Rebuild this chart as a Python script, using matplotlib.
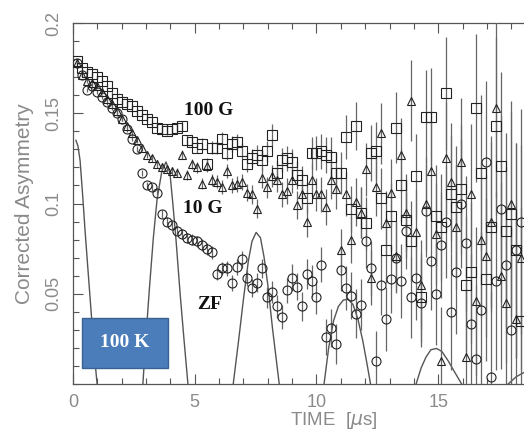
import matplotlib
matplotlib.use('Agg')
import matplotlib.pyplot as plt
from matplotlib.ticker import MultipleLocator, FixedLocator, FixedFormatter
from matplotlib.patches import Rectangle

# time bins [us]
TIME = [0.16, 0.365, 0.57, 0.775, 0.98, 1.185, 1.39, 1.595, 1.8, 2.005,
        2.21, 2.415, 2.62, 2.825, 3.03, 3.235, 3.44, 3.645, 3.85, 4.055,
        4.26, 4.465, 4.67, 4.875, 5.08, 5.285, 5.49, 5.695, 5.9, 6.105,
        6.31, 6.515, 6.72, 6.925, 7.13, 7.335, 7.54, 7.745, 7.95, 8.155,
        8.36, 8.565, 8.77, 8.975, 9.18, 9.385, 9.59, 9.795, 10.0, 10.205,
        10.41, 10.615, 10.82, 11.025, 11.23, 11.435, 11.64, 11.845, 12.05, 12.255,
        12.46, 12.665, 12.87, 13.075, 13.28, 13.485, 13.69, 13.895, 14.1, 14.305,
        14.51, 14.715, 14.92, 15.125, 15.33, 15.535, 15.74, 15.945, 16.15, 16.355,
        16.56, 16.765, 16.97, 17.175, 17.38, 17.585, 17.79, 17.995, 18.2, 18.405]

# statistical error per bin (same counting statistics for every field)
ERR = [0.0010, 0.0010, 0.0011, 0.0011, 0.0012, 0.0012, 0.0013, 0.0014, 0.0014, 0.0015,
       0.0016, 0.0016, 0.0017, 0.0018, 0.0019, 0.0020, 0.0021, 0.0022, 0.0023, 0.0024,
       0.0025, 0.0026, 0.0028, 0.0029, 0.0030, 0.0032, 0.0033, 0.0035, 0.0036, 0.0038,
       0.0040, 0.0042, 0.0044, 0.0046, 0.0048, 0.0050, 0.0053, 0.0055, 0.0058, 0.0061,
       0.0064, 0.0067, 0.0070, 0.0073, 0.0077, 0.0080, 0.0084, 0.0088, 0.0092, 0.0097,
       0.0101, 0.0106, 0.0111, 0.0117, 0.0122, 0.0128, 0.0134, 0.0141, 0.0147, 0.0155,
       0.0162, 0.0169, 0.0178, 0.0186, 0.0195, 0.0204, 0.0214, 0.0224, 0.0235, 0.0246,
       0.0257, 0.0270, 0.0283, 0.0296, 0.0311, 0.0325, 0.0341, 0.0357, 0.0374, 0.0391,
       0.0410, 0.0430, 0.0450, 0.0472, 0.0495, 0.0518, 0.0542, 0.0568, 0.0596, 0.0624]

ASY_100G = [0.179, 0.175, 0.173, 0.172, 0.170, 0.168, 0.165, 0.161, 0.158, 0.156,
            0.155, 0.154, 0.151, 0.149, 0.147, 0.145, 0.142, 0.141, 0.140, 0.141,
            0.142, 0.143, 0.135, 0.134, 0.131, 0.133, 0.122, 0.131, 0.131, 0.136,
            0.128, 0.133, 0.134, 0.129, 0.122, 0.125, 0.127, 0.124, 0.129, 0.138,
            0.117, 0.124, 0.125, 0.123, 0.116, 0.113, 0.103, 0.128, 0.128, 0.129,
            0.127, 0.126, 0.117, 0.117, 0.137, 0.097, 0.143, 0.095, 0.089, 0.128,
            0.129, 0.103, 0.074, 0.093, 0.142, 0.110, 0.091, 0.079, 0.115, 0.048,
            0.148, 0.148, 0.093, 0.087, 0.161, 0.105, 0.098, 0.108, 0.055, 0.062,
            0.153, 0.117, 0.058, 0.087, 0.143, 0.121, 0.085, 0.094, 0.074, 0.035]

ASY_10G = [0.178, 0.171, 0.168, 0.167, 0.165, 0.162, 0.158, 0.155, 0.151, 0.147,
           0.143, 0.139, 0.135, 0.131, 0.127, 0.125, 0.122, 0.120, 0.119, 0.118,
           0.117, 0.127, 0.116, 0.122, 0.120, 0.111, 0.121, 0.113, 0.112, 0.109,
           0.118, 0.110, 0.111, 0.112, 0.106, 0.105, 0.097, 0.114, 0.109, 0.115,
           0.113, 0.105, 0.107, 0.113, 0.099, 0.105, 0.090, 0.113, 0.105, 0.105,
           0.098, 0.113, 0.108, 0.074, 0.105, 0.080, 0.101, 0.095, 0.119, 0.059,
           0.109, 0.139, 0.089, 0.106, 0.071, 0.127, 0.095, 0.157, 0.084, 0.055,
           0.100, 0.118, 0.083, 0.013, 0.125, 0.112, 0.087, 0.123, 0.015, 0.105,
           0.046, 0.080, 0.071, 0.090, 0.153, 0.060, 0.045, 0.100, 0.036, 0.070]

ASY_ZF = [0.178, 0.171, 0.163, 0.165, 0.162, 0.159, 0.156, 0.153, 0.150, 0.147,
          0.141, 0.136, 0.130, 0.117, 0.110, 0.109, 0.106, 0.094, 0.090, 0.088,
          0.085, 0.083, 0.081, 0.080, 0.079, 0.077, 0.075, 0.073, 0.061, 0.064,
          0.064, 0.056, 0.065, 0.069, 0.059, 0.053, 0.056, 0.064, 0.048, 0.051,
          0.043, 0.037, 0.052, 0.059, 0.054, 0.043, 0.061, 0.057, 0.048, 0.066,
          0.026, 0.031, 0.022, 0.063, 0.053, 0.049, 0.039, 0.044, 0.079, 0.064,
          0.013, 0.055, 0.036, 0.058, 0.070, 0.057, 0.085, 0.048, 0.059, 0.045,
          0.096, 0.068, 0.050, 0.077, 0.090, 0.040, 0.062, 0.100, 0.078, 0.033,
          0.014, 0.041, 0.123, 0.004, 0.057, 0.097, 0.066, 0.030, 0.074, 0.090]

# oscillating curve, only the positive lobes are drawn
FIT_T = [[0.12, 0.2, 0.29, 0.4, 0.49, 0.6, 0.7, 0.8, 0.9, 0.99],
         [2.87, 3.0, 3.15, 3.3, 3.45, 3.65, 3.82, 3.98, 4.1, 4.23, 4.4, 4.55, 4.72],
         [6.58, 6.8, 7.0, 7.2, 7.35, 7.52, 7.7, 7.85, 8.0, 8.2, 8.47],
         [10.31, 10.5, 10.7, 10.9, 11.1, 11.3, 11.5, 11.7, 11.9, 12.05, 12.22],
         [14.09, 14.3, 14.5, 14.7, 14.93, 15.15, 15.4, 15.7, 15.96],
         [17.87, 18.2, 18.6, 19.0]]
FIT_A = [[0.135, 0.132, 0.124, 0.104, 0.086, 0.066, 0.048, 0.030, 0.013, 0.0],
         [0.0, 0.027, 0.055, 0.081, 0.102, 0.118, 0.123, 0.117, 0.100, 0.080, 0.050, 0.026, 0.0],
         [0.0, 0.024, 0.047, 0.068, 0.079, 0.084, 0.081, 0.070, 0.055, 0.030, 0.0],
         [0.0, 0.020, 0.035, 0.043, 0.0465, 0.047, 0.044, 0.036, 0.024, 0.013, 0.0],
         [0.0, 0.009, 0.015, 0.019, 0.0197, 0.018, 0.013, 0.006, 0.0],
         [0.0, 0.004, 0.007, 0.009]]

X_TICKS = [0, 5, 10, 15]
Y_TICKS = [0.05, 0.1, 0.15, 0.2]
Y_LABELS = ['0.05', '0.1', '0.15', '0.2']

GREY = '#8a8a8a'
plt.rcParams['font.family'] = ['Liberation Sans', 'DejaVu Sans']

fig = plt.figure(figsize=(5.24, 4.34), dpi=100)
# axes run past the right edge of the canvas (x up to 20 us)
ax = fig.add_axes([0.1393, 0.1152, 0.9294, 0.8318])

for t, a in zip(FIT_T, FIT_A):
    ax.plot(t, a, color='#555555', lw=1.0, zorder=2)

ebar = dict(yerr=ERR, mfc='none', mec='#222222', mew=0.8, ecolor='#666666',
            elinewidth=0.9, capsize=0, ls='none', zorder=3)
ax.errorbar(TIME, ASY_ZF, fmt='o', ms=6.5, **ebar)
ax.errorbar(TIME, ASY_10G, fmt='^', ms=6.0, **ebar)
ax.errorbar(TIME, ASY_100G, fmt='s', ms=6.5, **ebar)

ax.set_xlim(0, 20)
ax.set_ylim(0, 0.2)

ax.xaxis.set_major_locator(FixedLocator(X_TICKS))
ax.xaxis.set_minor_locator(MultipleLocator(1))
ax.yaxis.set_major_locator(FixedLocator(Y_TICKS))
ax.yaxis.set_major_formatter(FixedFormatter(Y_LABELS))
ax.yaxis.set_minor_locator(MultipleLocator(0.01))
ax.tick_params(which='both', direction='in', top=True, right=True,
               color='#555555', width=0.8, labelcolor=GREY, labelsize=13)
ax.tick_params(which='major', length=7)
ax.tick_params(which='minor', length=4)
ax.tick_params(axis='x', pad=7)
ax.tick_params(axis='y', pad=8)
for lab in ax.get_yticklabels():
    lab.set_rotation(90)
    lab.set_va('center')
for sp in ax.spines.values():
    sp.set_color('#555555')
    sp.set_linewidth(0.9)

ax.set_ylabel('Corrected Asymmetry', color=GREY, fontsize=15, labelpad=8)
ax.set_xlabel(r'TIME  [$\mu$s]', color=GREY, fontsize=13.5)
ax.xaxis.set_label_coords(0.536, -0.073)

serif_bold = dict(family=['Liberation Serif', 'DejaVu Serif'], weight='bold',
                  fontsize=14, ha='center', va='center', zorder=6)
ax.text(5.59, 0.1518, '100 G', color='#111111', **serif_bold)
ax.text(5.32, 0.0975, '10 G', color='#111111', **serif_bold)
ax.text(5.6, 0.0443, 'ZF', color='#111111', **serif_bold)

# temperature tag
ax.add_patch(Rectangle((0.37, 0.0089), 3.53, 0.0277, facecolor='#4a7dba',
                       edgecolor='#3a6290', lw=1.0, zorder=5))
ax.text(2.13, 0.0228, '100 K', color='white', **serif_bold)

fig.savefig('out.png', dpi=100)
